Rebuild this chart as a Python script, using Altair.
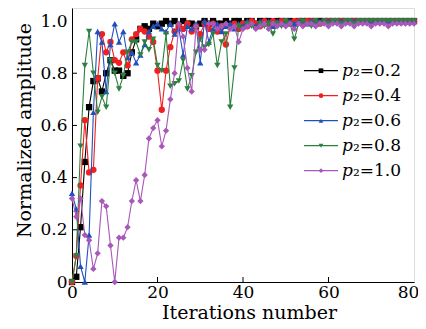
import altair as alt
import pandas as pd

iterations = list(range(81))
series_labels = ["𝑝₂=0.2", "𝑝₂=0.4", "𝑝₂=0.6", "𝑝₂=0.8", "𝑝₂=1.0"]
series_colors = ["#000000", "#f02020", "#2050c0", "#2e8040", "#a858b8"]
series_shapes = ["square", "circle", "triangle-up", "triangle-down", "diamond"]

amp_02 = [0.00, 0.02, 0.21, 0.46, 0.67, 0.77, 0.78, 0.73, 0.80, 0.85,
          0.81, 0.81, 0.79, 0.80, 0.88, 0.93, 0.97, 0.98, 0.97, 0.99,
          0.98, 0.99, 1.00, 0.99, 1.00, 0.98, 1.00, 0.99, 0.99, 0.98,
          0.99, 1.00, 0.99, 1.00, 0.99, 0.99, 1.00, 0.99, 1.00, 1.00,
          0.99, 1.00, 1.00, 0.99, 1.00, 1.00, 1.00, 0.99, 1.00, 1.00,
          1.00, 1.00, 0.99, 1.00, 1.00, 1.00, 1.00, 1.00, 1.00, 1.00,
          1.00, 1.00, 1.00, 1.00, 1.00, 1.00, 1.00, 1.00, 1.00, 1.00,
          1.00, 1.00, 1.00, 1.00, 1.00, 1.00, 1.00, 1.00, 1.00, 1.00, 1.00]
amp_04 = [0.00, 0.10, 0.37, 0.62, 0.42, 0.43, 0.78, 0.95, 0.88, 0.92,
          0.85, 0.84, 0.88, 0.83, 0.93, 0.95, 0.97, 0.96, 0.94, 0.92,
          0.81, 0.66, 0.81, 0.90, 0.96, 0.98, 0.97, 0.99, 0.96, 0.98,
          0.95, 0.99, 0.97, 0.99, 0.96, 0.98, 0.91, 0.98, 0.99, 0.97,
          0.99, 0.98, 1.00, 0.99, 0.98, 1.00, 0.99, 1.00, 0.99, 1.00,
          1.00, 0.99, 1.00, 1.00, 0.99, 1.00, 1.00, 1.00, 0.99, 1.00,
          1.00, 1.00, 1.00, 1.00, 1.00, 1.00, 1.00, 1.00, 1.00, 1.00,
          1.00, 1.00, 1.00, 1.00, 1.00, 1.00, 1.00, 1.00, 1.00, 1.00, 1.00]
amp_06 = [0.34, 0.28, 0.06, 0.00, 0.18, 0.65, 0.96, 0.92, 0.73, 0.91,
          0.99, 0.92, 0.96, 0.86, 0.88, 0.84, 0.87, 0.91, 0.96, 0.98,
          0.99, 0.97, 0.96, 0.99, 0.95, 0.97, 0.87, 0.98, 0.97, 0.99,
          0.84, 1.00, 0.92, 0.97, 0.99, 0.96, 0.98, 0.99, 0.97, 0.99,
          0.98, 1.00, 0.99, 0.98, 1.00, 0.99, 1.00, 0.98, 1.00, 0.99,
          1.00, 1.00, 0.99, 1.00, 1.00, 0.99, 1.00, 1.00, 1.00, 1.00,
          1.00, 1.00, 1.00, 1.00, 1.00, 1.00, 1.00, 1.00, 1.00, 1.00,
          1.00, 1.00, 1.00, 1.00, 1.00, 1.00, 1.00, 1.00, 1.00, 1.00, 1.00]
amp_08 = [0.00, 0.10, 0.52, 0.83, 0.96, 0.80, 0.65, 0.71, 0.67, 0.85,
          0.80, 0.74, 0.79, 0.88, 0.92, 0.92, 0.87, 0.92, 0.89, 0.93,
          0.83, 0.81, 0.95, 0.75, 0.76, 0.77, 0.85, 0.74, 0.79, 0.88,
          0.93, 0.90, 0.91, 0.95, 0.83, 0.92, 0.95, 0.67, 0.82, 0.98,
          0.97, 0.99, 0.98, 0.97, 0.99, 0.98, 0.99, 0.95, 0.99, 0.98,
          1.00, 0.99, 0.93, 0.99, 1.00, 0.99, 0.98, 1.00, 0.99, 1.00,
          0.99, 1.00, 1.00, 0.99, 1.00, 1.00, 0.99, 1.00, 1.00, 1.00,
          1.00, 1.00, 1.00, 1.00, 1.00, 1.00, 1.00, 1.00, 1.00, 1.00, 1.00]
amp_10 = [0.32, 0.25, 0.32, 0.18, 0.16, 0.05, 0.11, 0.31, 0.29, 0.14,
          0.00, 0.17, 0.17, 0.21, 0.31, 0.39, 0.31, 0.41, 0.55, 0.59,
          0.62, 0.52, 0.58, 0.70, 0.80, 0.99, 0.94, 0.82, 0.73, 0.98,
          0.89, 0.89, 0.99, 0.99, 0.97, 0.98, 0.99, 0.97, 0.98, 0.92,
          0.97, 0.98, 0.99, 0.97, 0.98, 0.99, 0.97, 0.99, 0.98, 0.99,
          0.98, 0.99, 0.97, 0.99, 0.98, 0.99, 0.99, 0.98, 0.99, 0.99,
          0.98, 0.99, 0.99, 0.98, 0.99, 0.99, 0.98, 0.99, 0.99, 0.99,
          0.98, 0.99, 0.99, 0.99, 0.98, 0.99, 0.99, 0.99, 0.99, 0.99, 0.99]

x_ticks = [0, 20, 40, 60, 80]
y_ticks = [0, 0.2, 0.4, 0.6, 0.8, 1.0]

all_series = [amp_02, amp_04, amp_06, amp_08, amp_10]
rows = []
for lab, vals in zip(series_labels, all_series):
    for it, v in zip(iterations, vals):
        rows.append({"series": lab, "iteration": it, "amp": v})
df = pd.DataFrame(rows)

W, H = 342, 274
FONT = "DejaVu Serif"

xenc = alt.X("iteration:Q", scale=alt.Scale(domain=[0, 80], nice=False, zero=False),
             axis=alt.Axis(values=x_ticks, title="Iterations number", ticks=False, grid=False,
                           labelFont=FONT, labelFontSize=17, titleFont=FONT, titleFontSize=19,
                           titleFontWeight="normal", labelColor="black", titleColor="black",
                           domainColor="black", labelPadding=2, labelFlush=False,
                           labelOffset={"condition": {"test": "datum.value == 80", "value": -6}, "value": 0},
                           titleX=177, titleY=36, titleAlign="center", titleBaseline="alphabetic"))
yenc = alt.Y("amp:Q", scale=alt.Scale(domain=[0, 1.05], nice=False),
             axis=alt.Axis(values=y_ticks, title="Normalized amplitude", ticks=False, grid=False,
                           labelExpr="datum.value == 0 ? '0' : format(datum.value, '.1f')",
                           labelFont=FONT, labelFontSize=17, titleFont=FONT, titleFontSize=19,
                           titleFontWeight="normal", labelColor="black", titleColor="black",
                           domainColor="black", labelPadding=5, titleX=-42, titleY=122,
                           titleAngle=-90, titleAlign="center", titleBaseline="alphabetic",
                           labelFlush=False))
color = alt.Color("series:N", scale=alt.Scale(domain=series_labels, range=series_colors), legend=None)

plot_layers = []
for lab, shp in zip(series_labels, series_shapes):
    base = alt.Chart(df).transform_filter(alt.datum.series == lab)
    plot_layers.append(base.mark_line(strokeWidth=1.1).encode(x=xenc, y=yenc, color=color))
    plot_layers.append(base.mark_point(filled=True, size=40, opacity=1, shape=shp).encode(
        x=xenc, y=yenc, color=color))

xt = pd.DataFrame({"t": x_ticks[1:-1]})
yt = pd.DataFrame({"t": y_ticks[1:-1]})
plot_layers.append(alt.Chart(xt).mark_rule(color="black", strokeWidth=1).encode(
    x=alt.X("t:Q"), y=alt.value(H), y2=alt.value(H - 5)))
plot_layers.append(alt.Chart(yt).mark_rule(color="black", strokeWidth=1).encode(
    y=alt.Y("t:Q"), x=alt.value(0), x2=alt.value(5)))

# legend drawn as its own small layer group, rows placed by an index scale
leg_df = pd.DataFrame({"series": series_labels, "row": list(range(len(series_labels)))})
leg_y = alt.Y("row:Q", scale=alt.Scale(domain=[0, 4], range=[62.7, 162.7]), axis=None)
leg_base = alt.Chart(leg_df)
leg_line = leg_base.mark_rule(strokeWidth=1.2).encode(
    y=leg_y, x=alt.value(232), x2=alt.value(266), color=color)
leg_pt = leg_base.mark_point(filled=True, size=22, opacity=1).encode(
    y=leg_y, x=alt.value(249), color=color,
    shape=alt.Shape("series:N", scale=alt.Scale(domain=series_labels, range=series_shapes), legend=None))
leg_txt = leg_base.mark_text(align="left", baseline="middle", font=FONT, fontSize=17, color="black").encode(
    y=leg_y, x=alt.value(270), text="series:N")

chart = alt.layer(
    alt.layer(*plot_layers),
    alt.layer(leg_line, leg_pt, leg_txt),
).resolve_scale(y="independent").properties(
    width=W, height=H,
    autosize=alt.AutoSizeParams(type="none"),
    padding={"left": 64, "top": 0, "right": 4, "bottom": 39},
).configure_view(stroke="black", strokeWidth=1.2).configure(background="white")

chart.save("out.html", embed_options={"renderer": "svg", "actions": False})
